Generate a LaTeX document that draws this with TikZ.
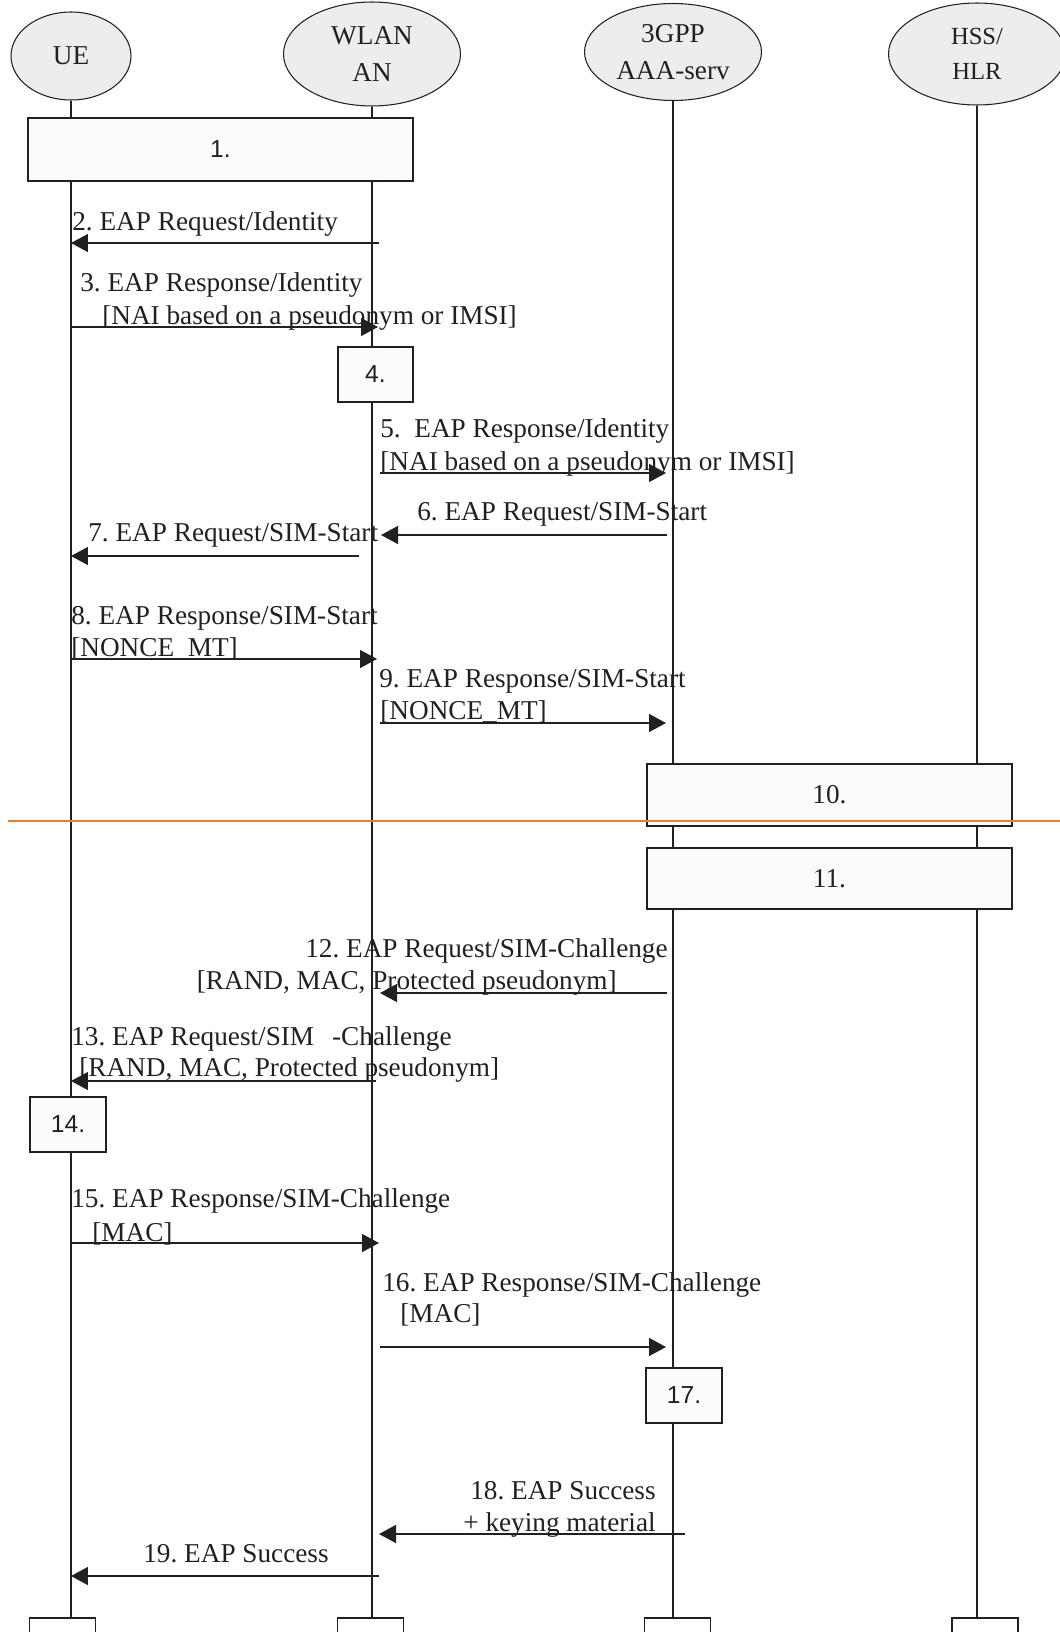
\documentclass[tikz,border=0pt]{standalone}
\usepackage{fontspec}
\setmainfont{Liberation Serif}
\newfontfamily\arialfont{Liberation Sans}
\usepackage{tikz}
\usetikzlibrary{positioning}
\usetikzlibrary{shapes.geometric,arrows.meta}

\definecolor{ink}{HTML}{231F20}
\definecolor{headfill}{HTML}{EDEDED}
\definecolor{boxfill}{HTML}{FBFBFB}
\definecolor{cutline}{HTML}{ED7D31}

\newcommand\msgfont{\fontsize{15.5}{18}\selectfont}
\newcommand\headfont{\fontsize{15.5}{21}\selectfont}
\frenchspacing

\tikzset{
  entity/.style={draw=ink,ellipse,fill=headfill,line width=0.6pt,align=center,
    minimum width=3.54cm,minimum height=2.04cm,inner sep=0pt,font=\headfont,text=ink},
  life/.style={draw=ink,line width=0.6pt},
  stepbox/.style={draw=ink,fill=boxfill,line width=0.9pt,inner sep=0pt,
    font=\arialfont\fontsize{14}{16}\selectfont,text=ink},
  endbox/.style={draw=ink,fill=white,line width=0.9pt,anchor=north,
    minimum width=1.32cm,minimum height=1cm},
  msg/.style={draw=ink,line width=0.8pt,-{Triangle[length=0.34cm,width=0.36cm]}},
  lbl/.style={anchor=base west,inner sep=0pt,font=\msgfont,text=ink},
  lblr/.style={anchor=base east,inner sep=0pt,font=\msgfont,text=ink}
}

\begin{document}
\begin{tikzpicture}[x=0.02cm,y=-0.02cm]
  \useasboundingbox (0,0) rectangle (1060,1632);
  % entities
  \node (ue) [entity,minimum width=2.4cm,minimum height=1.76cm] at (71,56) {UE};
  \node (wlan) [entity,minimum height=2.08cm] at (372,54) {WLAN\\AN};
  \node (aaa) [entity,minimum height=1.94cm] at (673,52) {3GPP\\AAA-serv};
  \node (hss) [entity,font=\fontsize{14}{20}\selectfont] at (977,54) {HSS/\\HLR};
  \node (endue) [endbox] at (62.5,1617) {};
  \node (endwlan) [endbox] at (370.5,1617) {};
  \node (endaaa) [endbox] at (677.5,1617) {};
  \node (endhss) [endbox] at (985,1617) {};
  \draw[life] (ue) -- (ue |- endue.north);
  \draw[life] (wlan) -- (wlan |- endwlan.north);
  \draw[life] (aaa) -- (aaa |- endaaa.north);
  \draw[life] (hss) -- (hss |- endhss.north);

  % procedure boxes
  \node (s1) [stepbox,minimum width=7.7cm,minimum height=1.26cm] at (220.5,149.5) {1.};
  \node (s4) [stepbox,minimum width=1.5cm,minimum height=1.1cm] at (375.5,374.5) {4.};
  \node (s10) [stepbox,font=\msgfont,minimum width=7.3cm,minimum height=1.24cm] at (829.5,795) {10.};
  \node (s11) [stepbox,font=\msgfont,minimum width=7.3cm,minimum height=1.22cm] at (829.5,878.5) {11.};
  \node (s14) [stepbox,minimum width=1.52cm,minimum height=1.1cm] at (68,1124.5) {14.};
  \node (s17) [stepbox,minimum width=1.52cm,minimum height=1.1cm] at (684,1395.5) {17.};

  % messages
  \draw[msg] ([shift={(7,0)}]wlan |- 0,243) -- (ue |- 0,243);
  \draw[msg] (ue |- 0,327) -- ([shift={(6,0)}]wlan |- 0,327);
  \draw[msg] ([shift={(8,0)}]wlan |- 0,473) -- ([shift={(-7,0)}]aaa |- 0,473);
  \draw[msg] ([shift={(-6,0)}]aaa |- 0,535) -- ([shift={(9,0)}]wlan |- 0,535);
  \draw[msg] ([shift={(-13,0)}]wlan |- 0,556) -- (ue |- 0,556);
  \draw[msg] (ue |- 0,659) -- ([shift={(5,0)}]wlan |- 0,659);
  \draw[msg] ([shift={(8,0)}]wlan |- 0,723) -- ([shift={(-7,0)}]aaa |- 0,723);
  \draw[msg] ([shift={(-6,0)}]aaa |- 0,993) -- ([shift={(8,0)}]wlan |- 0,993);
  \draw[msg] ([shift={(4,0)}]wlan |- 0,1081) -- (ue |- 0,1081);
  \draw[msg] (ue |- 0,1243) -- ([shift={(7,0)}]wlan |- 0,1243);
  \draw[msg] ([shift={(8,0)}]wlan |- 0,1347) -- ([shift={(-7,0)}]aaa |- 0,1347);
  \draw[msg] ([shift={(12,0)}]aaa |- 0,1534) -- ([shift={(7,0)}]wlan |- 0,1534);
  \draw[msg] ([shift={(7,0)}]wlan |- 0,1576) -- (ue |- 0,1576);

  % message texts
  \node (m2) [lbl] at (72,231) {2. EAP Request/Identity};
  \node (m3) [lbl] at (80,291) {3. EAP Response/Identity};
  \node (m3b) [lbl] at (102,324) {[NAI based on a pseudonym or IMSI]};
  \node (m5) [lbl] at (380,437) {5.\ \ EAP Response/Identity};
  \node (m5b) [lbl] at (380,470) {[NAI based on a pseudonym or IMSI]};
  \node (m6) [lbl] at (417,520) {6. EAP Request/SIM-Start};
  \node (m7) [lbl] at (88,541) {7. EAP Request/SIM-Start};
  \node (m8) [lbl] at (71,624) {8. EAP Response/SIM-Start};
  \node (m8b) [lbl] at (71,656) {[NONCE\_MT]};
  \node (m9) [lbl] at (379,687) {9. EAP Response/SIM-Start};
  \node (m9b) [lbl] at (380,719) {[NONCE\_MT]};
  \node (m12) [lblr] at (668,957) {12. EAP Request/SIM-Challenge};
  \node (m12b) [lblr] at (617,989) {[RAND, MAC, Protected pseudonym]};
  \node (m13) [lbl] at (71,1045) {13. EAP Request/SIM\hspace{0.36cm}-Challenge};
  \node (m13b) [lbl] at (79,1076) {[RAND, MAC, Protected pseudonym]};
  \node (m15) [lbl] at (71,1207) {15. EAP Response/SIM-Challenge};
  \node (m15b) [lbl] at (92,1241) {[MAC]};
  \node (m16) [lbl] at (382,1291) {16. EAP Response/SIM-Challenge};
  \node (m16b) [lbl] at (400,1322) {[MAC]};
  \node (m18) [lblr] at (656,1499) {18. EAP Success};
  \node (m18b) [lblr] at (656,1531) {+ keying material};
  \node (m19) [lbl] at (143,1562) {19. EAP Success};

  % separator
  \draw[cutline,line width=1.1pt] (8,821) -- (1060,821);
\end{tikzpicture}
\end{document}
